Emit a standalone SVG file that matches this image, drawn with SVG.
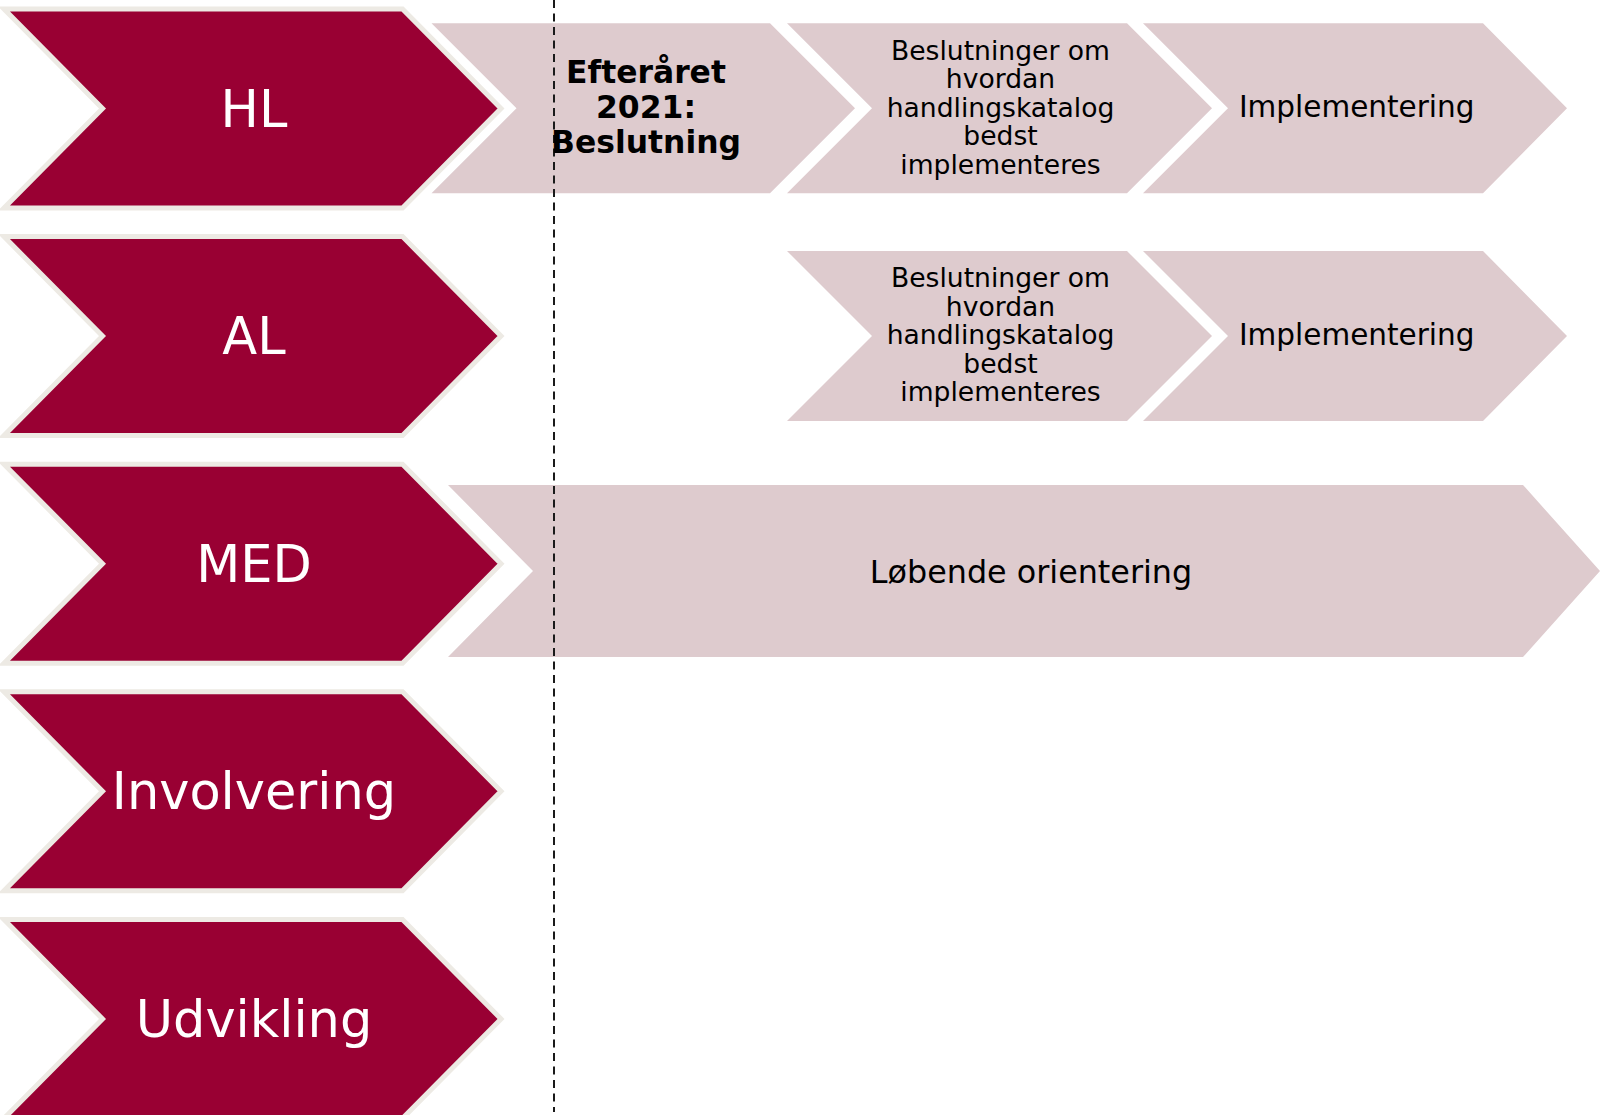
<svg xmlns="http://www.w3.org/2000/svg" width="1600" height="1115" viewBox="0 0 1600 1115">
<style>
.red{fill:#990033;stroke:#EDEAE4;stroke-width:5;stroke-linejoin:miter}
.pink{fill:#DECBCE}
.lbl{font-family:"DejaVu Sans",Verdana,sans-serif;font-size:51px;fill:#FFFFFF;text-anchor:middle}
.t{font-family:"DejaVu Sans",Verdana,sans-serif;fill:#000000;text-anchor:middle}
.b{font-weight:bold;font-size:31.4px}
.m{font-size:26.6px}
.i{font-size:29.5px}
.l{font-size:31.8px}
.div{stroke:#1a1a1a;stroke-width:2;stroke-dasharray:8 5.5;fill:none}
</style>
<rect width="1600" height="1115" fill="#FFFFFF"/>

<g id="node-HL">
<polygon class="red" points="4,9 402.5,9 501,108.5 402.5,208 4,208 102.5,108.5"/>
<text class="lbl" x="254" y="126.5">HL</text>
</g>
<g id="node-AL">
<polygon class="red" points="4,236.6 402.5,236.6 501,336.1 402.5,435.6 4,435.6 102.5,336.1"/>
<text class="lbl" x="254" y="354.1">AL</text>
</g>
<g id="node-MED">
<polygon class="red" points="4,464.2 402.5,464.2 501,563.7 402.5,663.2 4,663.2 102.5,563.7"/>
<text class="lbl" x="254" y="581.7">MED</text>
</g>
<g id="node-Involvering">
<polygon class="red" points="4,691.8 402.5,691.8 501,791.3 402.5,890.8 4,890.8 102.5,791.3"/>
<text class="lbl" x="254" y="809.3">Involvering</text>
</g>
<g id="node-Udvikling">
<polygon class="red" points="4,919.4 402.5,919.4 501,1018.9 402.5,1118.4 4,1118.4 102.5,1018.9"/>
<text class="lbl" x="254" y="1036.9">Udvikling</text>
</g>

<g id="node-HL-beslutning">
<polygon class="pink" points="431.5,23.3 770,23.3 855,108.3 770,193.3 431.5,193.3 516.5,108.3"/>
</g>
<g id="node-HL-hvordan">
<polygon class="pink" points="787,23.3 1127,23.3 1212,108.3 1127,193.3 787,193.3 872,108.3"/>
<text class="t m" x="1000.5" y="59.7">Beslutninger om</text>
<text class="t m" x="1000.5" y="88.2">hvordan</text>
<text class="t m" x="1000.5" y="116.7">handlingskatalog</text>
<text class="t m" x="1000.5" y="145.2">bedst</text>
<text class="t m" x="1000.5" y="173.7">implementeres</text>
</g>
<g id="node-HL-implementering">
<polygon class="pink" points="1143,23.3 1483,23.3 1567,108.3 1483,193.3 1143,193.3 1228,108.3"/>
<text class="t i" x="1356.7" y="117.3">Implementering</text>
</g>

<g id="node-AL-hvordan">
<polygon class="pink" points="787,251 1127,251 1212,336 1127,421 787,421 872,336"/>
<text class="t m" x="1000.5" y="287.3">Beslutninger om</text>
<text class="t m" x="1000.5" y="315.8">hvordan</text>
<text class="t m" x="1000.5" y="344.3">handlingskatalog</text>
<text class="t m" x="1000.5" y="372.8">bedst</text>
<text class="t m" x="1000.5" y="401.3">implementeres</text>
</g>
<g id="node-AL-implementering">
<polygon class="pink" points="1143,251 1483,251 1567,336 1483,421 1143,421 1228,336"/>
<text class="t i" x="1356.7" y="344.9">Implementering</text>
</g>

<g id="node-MED-orientering">
<polygon class="pink" points="448,485 1523,485 1600,571 1523,657 448,657 533,571"/>
<text class="t l" x="1031" y="582.7">Løbende orientering</text>
</g>

<g id="connectors">
<line class="div" x1="554" y1="0" x2="554" y2="1112"/>
</g>

<g id="node-HL-beslutning-text">
<text class="t b" x="646" y="83.3">Efteråret</text>
<text class="t b" x="646" y="118.3">2021:</text>
<text class="t b" x="646" y="153.3">Beslutning</text>
</g>
</svg>
